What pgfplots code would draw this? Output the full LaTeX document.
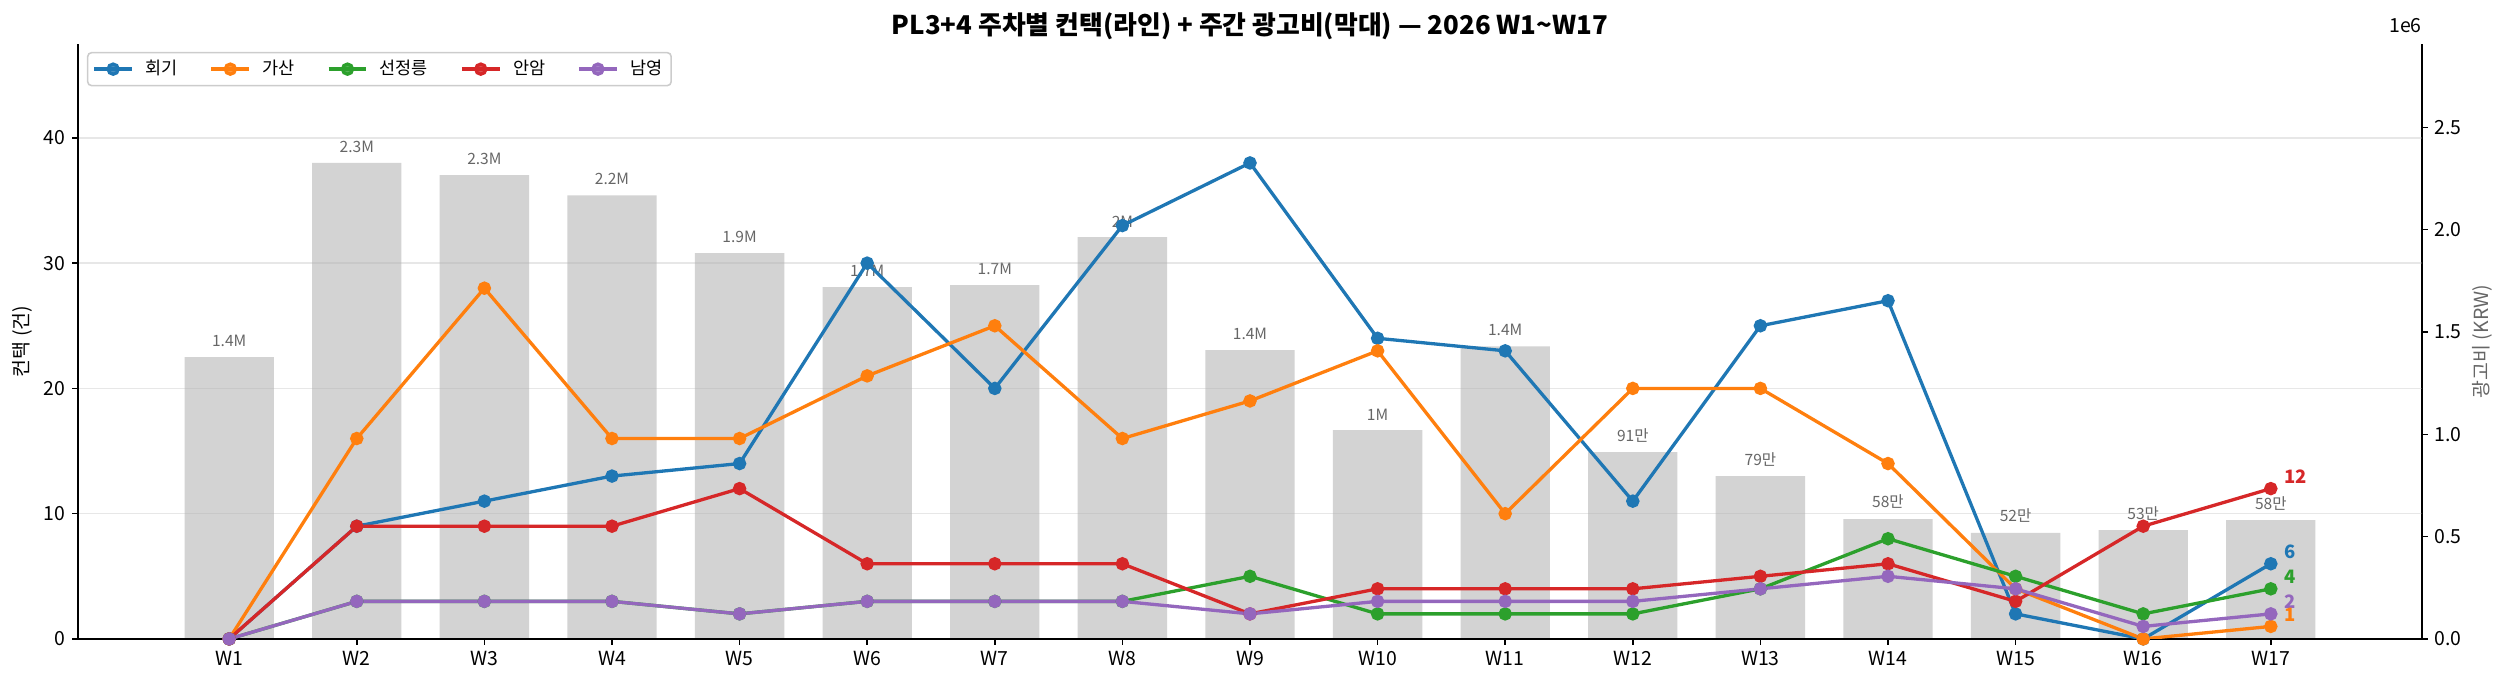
\documentclass[border=0pt]{standalone}
\usepackage{fontspec}
\setmainfont{Noto Sans CJK KR}
\usepackage{pgfplots}
\usepackage{pgfplotstable}
\pgfplotsset{compat=1.18}
\definecolor{c1}{HTML}{1F77B4}
\definecolor{c2}{HTML}{FF7F0E}
\definecolor{c3}{HTML}{2CA02C}
\definecolor{c4}{HTML}{D62728}
\definecolor{c5}{HTML}{9467BD}
\definecolor{barc}{HTML}{D3D3D3}
\definecolor{labc}{HTML}{666666}
\definecolor{gridc}{HTML}{B0B0B0}
\definecolor{legc}{HTML}{CCCCCC}

\pgfplotstableread{
x y lab
0 1377000 1.4M
1 2326000 2.3M
2 2266000 2.3M
3 2168000 2.2M
4 1885000 1.9M
5 1719000 1.7M
6 1729000 1.7M
7 1963000 2M
8 1411000 1.4M
9 1020000 1M
10 1430000 1.4M
11 913000 91만
12 796000 79만
13 586000 58만
14 518000 52만
15 532000 53만
16 581000 58만
}\bardata

\pgfplotstableread{
x hoegi gasan seon anam nam
0 0 0 0 0 0
1 9 16 3 9 3
2 11 28 3 9 3
3 13 16 3 9 3
4 14 16 2 12 2
5 30 21 3 6 3
6 20 25 3 6 3
7 33 16 3 6 3
8 38 19 5 2 2
9 24 23 2 4 3
10 23 10 2 4 3
11 11 20 2 4 3
12 25 20 4 5 4
13 27 14 8 6 5
14 2 4 5 3 4
15 0 0 2 9 1
16 6 1 4 12 2
}\linedata

\begin{document}
\begin{tikzpicture}
\pgfplotsset{
  common/.style={
    width=1205.5pt, height=306pt, scale only axis,
    at={(0,0)}, anchor=south west,
    xmin=-1.185, xmax=17.185,
    tick align=outside,
    major tick length=3pt,
    every tick/.style={black, line width=0.8pt},
    axis line style={black, line width=1pt},
    tick label style={font=\fontsize{10}{12}\selectfont},
    /pgf/number format/assume math mode=true,
  }
}
% bars on the right axis
\begin{axis}[common,
  clip=false,
  axis y line*=right, axis x line=none,
  ymin=0, ymax=2907500,
  ytick={0,500000,1000000,1500000,2000000,2500000},
  yticklabels={0.0,0.5,1.0,1.5,2.0,2.5},
  scaled y ticks=false,
  ylabel={광고비 (KRW)},
  ylabel style={font=\fontsize{10}{12}\selectfont, text=labc, at={([xshift=31pt]rel axis cs:1,0.5)}, anchor=center, rotate=0},
]
\addplot[ybar, bar width=0.7, fill=barc, draw=none,
  nodes near coords, point meta=explicit symbolic,
  every node near coord/.style={font=\fontsize{8}{10}\selectfont, text=labc, anchor=south, inner sep=0pt, yshift=5pt}]
  table[x=x, y=y, meta=lab] {\bardata};
\node[anchor=base east, font=\fontsize{10}{12}\selectfont, inner sep=0pt] at ([yshift=6pt]rel axis cs:1,1) {1e6};
\end{axis}
% lines on the left axis
\begin{axis}[common, name=ax,
  axis y line*=left, axis x line*=bottom,
  ymin=0, ymax=47.5,
  ytick={0,10,20,30,40},
  xtick={0,...,16},
  xticklabels={W1,W2,W3,W4,W5,W6,W7,W8,W9,W10,W11,W12,W13,W14,W15,W16,W17},
  ymajorgrids,
  major grid style={line width=0.8pt, color=gridc, opacity=0.3},
  ylabel={컨택 (건)},
  ylabel style={font=\fontsize{10}{12}\selectfont, at={([xshift=-28.5pt]rel axis cs:0,0.5)}, anchor=center},
  every axis title shift=0pt,
  title={PL3+4 주차별 컨택(라인) + 주간 광고비(막대) — 2026 W1\textasciitilde W17},
  title style={font=\bfseries\fontsize{13.3}{16}\selectfont, at={(0.5,1)}, anchor=base, yshift=5pt},
  legend columns=5,
  legend style={at={([xshift=4.6pt,yshift=-4.1pt]rel axis cs:0,1)}, anchor=north west,
    draw=legc, line width=0.8pt, rounded corners=2pt, fill=white, fill opacity=0.8, text opacity=1,
    font=\fontsize{9}{11}\selectfont, inner xsep=2.5pt, inner ysep=2pt,
    /tikz/every odd column/.append style={column sep=4pt},
    /tikz/every even column/.append style={column sep=14.5pt}},
  legend image code/.code={\draw[#1, mark repeat=2, mark phase=2] plot coordinates {(0pt,0pt) (9.75pt,0pt) (19.5pt,0pt)};},
  every axis plot/.append style={line width=1.7pt, mark=*, mark size=2.6pt, mark options={solid}},
]
\addplot[c1] table[x=x, y=hoegi] {\linedata};
\addlegendentry{회기}
\addplot[c2] table[x=x, y=gasan] {\linedata};
\addlegendentry{가산}
\addplot[c3] table[x=x, y=seon] {\linedata};
\addlegendentry{선정릉}
\addplot[c4] table[x=x, y=anam] {\linedata};
\addlegendentry{안암}
\addplot[c5] table[x=x, y=nam] {\linedata};
\addlegendentry{남영}
\begin{scope}[every node/.style={anchor=west, inner sep=0pt, xshift=6.8pt, yshift=6.2pt, font=\bfseries\fontsize{9.5}{11}\selectfont}]
\node[text=c4] at (axis cs:16,12) {12};
\node[text=c1] at (axis cs:16,6) {6};
\node[text=c3] at (axis cs:16,4) {4};
\node[text=c5] at (axis cs:16,2) {2};
\node[text=c2] at (axis cs:16,1) {1};
\end{scope}
\end{axis}
\pgfresetboundingbox
\path[use as bounding box] ([xshift=-40.1pt,yshift=-23.7pt]ax.south west) rectangle ([xshift=43.2pt,yshift=22.6pt]ax.north east);
\end{tikzpicture}
\end{document}
